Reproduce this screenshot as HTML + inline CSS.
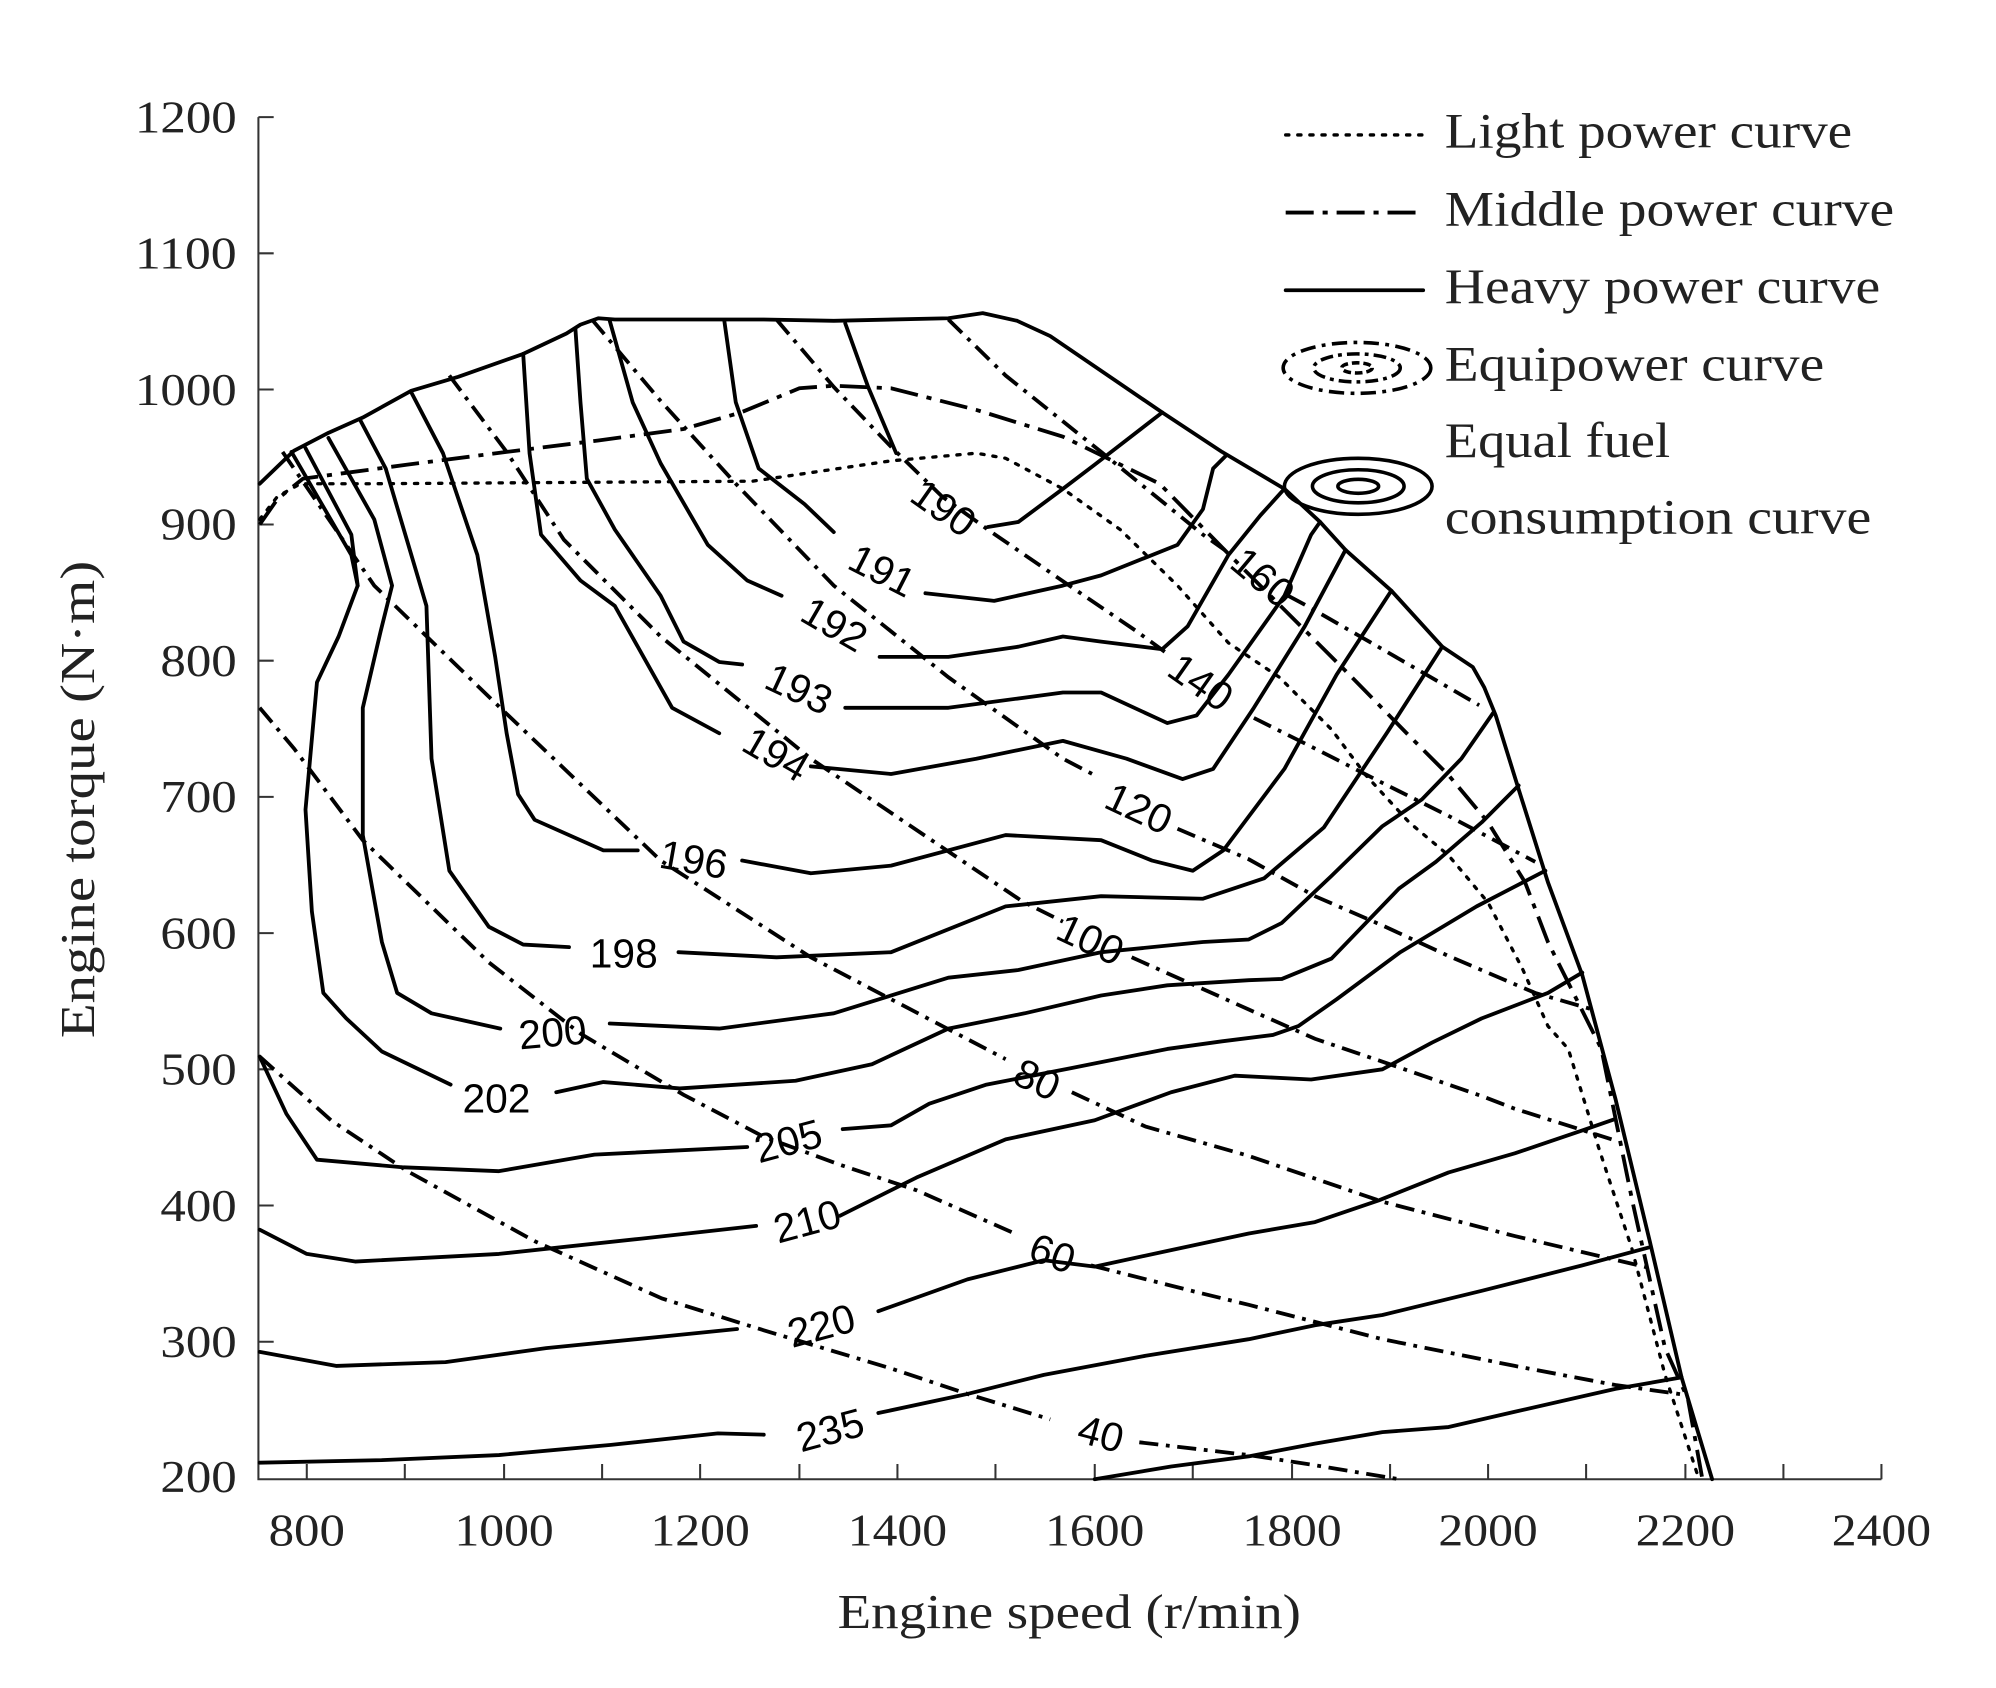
<!DOCTYPE html>
<html><head><meta charset="utf-8"><style>
html,body{margin:0;padding:0;background:#fff;}
svg{display:block;}
text{font-family:"Liberation Serif",serif;fill:#222;}
.lb text{font-family:"Liberation Sans",sans-serif;font-size:32px;fill:#000;}
.c{fill:none;stroke:#000;stroke-width:3;stroke-linejoin:round;stroke-linecap:round;}
.e{fill:none;stroke:#000;stroke-width:3;stroke-dasharray:15 6 3 6;}
.m{fill:none;stroke:#000;stroke-width:3;stroke-dasharray:22 7 4 7;}
.d{fill:none;stroke:#000;stroke-width:2.6;stroke-dasharray:2.5 7;stroke-linecap:round;}
.ax{stroke:#333;stroke-width:1.6;fill:none;}
</style></head><body>
<svg width="1996" height="1688" viewBox="0 0 1568 1326" preserveAspectRatio="none">
<!-- axes -->
<path class="ax" d="M203,92 V1162 H1478"/>
<g class="ax">
<path d="M203,92h12M203,199h12M203,306h12M203,412h12M203,519h12M203,626h12M203,733h12M203,840h12M203,947h12M203,1054h12"/>
<path d="M241,1162v-12M318,1162v-12M396,1162v-12M473,1162v-12M550,1162v-12M628,1162v-12M705,1162v-12M782,1162v-12M860,1162v-12M937,1162v-12M1015,1162v-12M1092,1162v-12M1169,1162v-12M1246,1162v-12M1324,1162v-12M1401,1162v-12M1478,1162v-12"/>
</g>
<g style="font-size:36px" text-anchor="end" lengthAdjust="spacingAndGlyphs">
<text x="186" y="104" textLength="80" lengthAdjust="spacingAndGlyphs">1200</text><text x="186" y="211" textLength="80" lengthAdjust="spacingAndGlyphs">1100</text><text x="186" y="318" textLength="80" lengthAdjust="spacingAndGlyphs">1000</text>
<text x="186" y="424" textLength="60" lengthAdjust="spacingAndGlyphs">900</text><text x="186" y="531" textLength="60" lengthAdjust="spacingAndGlyphs">800</text><text x="186" y="638" textLength="60" lengthAdjust="spacingAndGlyphs">700</text>
<text x="186" y="745" textLength="60" lengthAdjust="spacingAndGlyphs">600</text><text x="186" y="852" textLength="60" lengthAdjust="spacingAndGlyphs">500</text><text x="186" y="959" textLength="60" lengthAdjust="spacingAndGlyphs">400</text>
<text x="186" y="1066" textLength="60" lengthAdjust="spacingAndGlyphs">300</text><text x="186" y="1172" textLength="60" lengthAdjust="spacingAndGlyphs">200</text>
</g>
<g style="font-size:36px" text-anchor="middle">
<text x="241" y="1214" textLength="60" lengthAdjust="spacingAndGlyphs">800</text><text x="396" y="1214" textLength="78" lengthAdjust="spacingAndGlyphs">1000</text><text x="550" y="1214" textLength="78" lengthAdjust="spacingAndGlyphs">1200</text>
<text x="705" y="1214" textLength="78" lengthAdjust="spacingAndGlyphs">1400</text><text x="860" y="1214" textLength="78" lengthAdjust="spacingAndGlyphs">1600</text><text x="1015" y="1214" textLength="78" lengthAdjust="spacingAndGlyphs">1800</text>
<text x="1169" y="1214" textLength="78" lengthAdjust="spacingAndGlyphs">2000</text><text x="1324" y="1214" textLength="78" lengthAdjust="spacingAndGlyphs">2200</text><text x="1478" y="1214" textLength="78" lengthAdjust="spacingAndGlyphs">2400</text>
<text x="840" y="1279" style="font-size:38px" textLength="364" lengthAdjust="spacingAndGlyphs">Engine speed (r/min)</text>
<text transform="translate(74,628) rotate(-90)" style="font-size:38px" textLength="375" lengthAdjust="spacingAndGlyphs">Engine torque (N·m)</text>
</g>

<!-- boundary -->
<polyline class="c" points="204,380 231,354 258,340 285,328 323,307 360,296 411,278 445,262 456,255 470,250 483,251 600,251 655,252 745,250 772,246 799,252 825,264 913,324 960,355 1009,384 1037,410 1057,432 1093,464 1133,508 1157,524 1166,540 1175,562 1193,620 1216,693 1243,766 1269,863 1296,975 1321,1082 1345,1162"/>

<!-- fuel contours -->
<polyline class="c" points="664,254 682,304 704,356"/>
<polyline class="c" points="776,414 800,410 835,384 860,365 913,324"/>
<polyline class="c" points="569,252 578,316 596,368 632,396 655,418"/>
<polyline class="c" points="727,466 781,472 835,460 865,452 925,428 945,400 953,368 963,358"/>
<polyline class="c" points="479,252 497,316 519,364 556,428 587,456 614,468"/>
<polyline class="c" points="691,516 745,516 800,508 835,500 865,504 913,510 933,492 965,436 990,405 1009,384"/>
<polyline class="c" points="452,258 456,316 461,376 483,416 519,468 537,504 565,520 583,522"/>
<polyline class="c" points="664,556 745,556 835,544 865,544 917,568 940,562 965,530 1009,468 1030,420 1037,410"/>
<polyline class="c" points="411,278 416,356 425,420 456,456 483,476 510,524 528,556 565,576"/>
<polyline class="c" points="637,602 700,608 767,596 835,582 885,596 929,612 953,604 985,556 1025,492 1057,432"/>
<polyline class="c" points="323,308 348,356 375,436 389,516 398,576 407,624 420,644 474,668 501,668"/>
<polyline class="c" points="583,676 637,686 700,680 790,656 865,660 905,676 937,684 961,668 1009,604 1050,530 1093,464"/>
<polyline class="c" points="283,330 303,368 335,476 339,596 353,684 384,728 411,742 447,744"/>
<polyline class="c" points="533,748 610,752 700,748 790,712 865,704 945,706 993,690 1040,650 1090,575 1133,508"/>
<polyline class="c" points="258,344 294,408 308,460 299,496 285,556 285,656 300,740 312,780 339,796 393,808"/>
<polyline class="c" points="479,804 565,808 655,796 745,768 800,762 865,748 945,740 981,738 1007,725 1046,688 1086,649 1117,628 1148,596 1173,560"/>
<polyline class="c" points="240,352 276,420 281,460"/>
<polyline class="c" points="229,355 276,436 281,460 266,500 249,536 240,636 245,716 254,780 272,800 300,826 354,852"/>
<polyline class="c" points="437,858 474,850 534,855 625,849 685,836 745,808 805,796 865,782 917,774 981,770 1007,769 1046,753 1073,725 1099,698 1128,677 1164,646 1193,617"/>
<polyline class="c" points="204,830 225,875 249,911 317,917 392,920 467,907 587,901"/>
<polyline class="c" points="662,887 700,884 730,867 775,852 842,839 917,824 960,818 1000,813 1020,806 1050,785 1100,748 1160,712 1214,684"/>
<polyline class="c" points="204,966 241,985 279,991 392,985 504,973 594,963"/>
<polyline class="c" points="660,955 720,925 790,895 860,880 920,858 970,845 1030,848 1086,840 1125,819 1164,800 1216,780 1243,764"/>
<polyline class="c" points="204,1062 264,1073 350,1070 429,1059 520,1050 579,1044"/>
<polyline class="c" points="690,1030 760,1005 820,990 860,995 920,982 981,969 1033,960 1083,943 1138,921 1190,906 1243,888 1269,879"/>
<polyline class="c" points="204,1149 300,1147 392,1143 480,1135 564,1126 600,1127"/>
<polyline class="c" points="690,1110 760,1095 820,1080 900,1065 981,1052 1033,1041 1086,1033 1164,1014 1243,994 1295,980"/>
<polyline class="c" points="860,1162 920,1152 981,1144 1033,1134 1086,1125 1138,1121 1190,1109 1269,1091 1321,1082"/>

<!-- equipower -->
<polyline class="e" points="204,830 260,880 320,920 420,975 520,1020 600,1045 700,1075 760,1095 825,1115"/>
<polyline class="e" points="895,1133 981,1143 1033,1151 1099,1162"/>
<polyline class="e" points="204,556 231,588 285,660 384,756 456,812 537,860 600,893 660,915 720,935 795,968"/>
<polyline class="e" points="857,994 940,1015 981,1025 1086,1052 1190,1073 1269,1088 1326,1096"/>
<polyline class="e" points="222,355 294,460 393,556 519,676 637,752 790,832"/>
<polyline class="e" points="842,858 900,885 981,908 1086,944 1190,971 1300,997"/>
<polyline class="e" points="353,295 398,355 443,424 519,500 637,596 803,708 835,724"/>
<polyline class="e" points="889,752 981,793 1033,816 1086,834 1164,861 1190,871 1266,895"/>
<polyline class="e" points="465,251 519,315 578,380 655,460 745,532 835,596 862,610"/>
<polyline class="e" points="925,651 981,675 1033,704 1086,727 1138,751 1206,780 1251,793"/>
<polyline class="e" points="610,251 655,304 700,351 740,390 776,416 840,460 893,496 915,512"/>
<polyline class="e" points="985,564 1033,588 1086,615 1138,641 1206,677"/>
<polyline class="e" points="745,251 790,295 865,355 945,420 962,432"/>
<polyline class="e" points="1012,468 1025,475 1086,510 1162,554"/>

<!-- middle power -->
<polyline class="m" points="204,412 218,392 238,376 320,365 398,355 470,346 537,337 582,324 628,305 655,303 700,305 767,322 835,343 911,380 960,430 1010,480 1060,530 1107,578 1138,609 1169,646 1185,672 1198,693 1216,740 1232,772 1258,824 1282,942 1308,1059 1326,1099 1337,1160"/>
<!-- light power -->
<polyline class="d" points="204,408 218,390 236,380 294,380 591,378 700,362 767,356 790,360 835,384 880,416 925,460 965,505 1005,532 1046,573 1073,609 1107,646 1138,672 1169,709 1196,761 1216,806 1232,824 1256,902 1282,981 1308,1080 1334,1160"/>

<!-- labels -->
<g class="lb" text-anchor="middle">
<text transform="translate(735,408) rotate(35)">190</text>
<text transform="translate(688,458) rotate(27)">191</text>
<text transform="translate(650,500) rotate(30)">192</text>
<text transform="translate(623,551) rotate(25)">193</text>
<text transform="translate(604,602) rotate(30)">194</text>
<text transform="translate(543,686) rotate(10)">196</text>
<text transform="translate(490,760)">198</text>
<text transform="translate(435,822) rotate(-5)">200</text>
<text transform="translate(390,874)">202</text>
<text transform="translate(622,907) rotate(-15)">205</text>
<text transform="translate(637,970) rotate(-15)">210</text>
<text transform="translate(648,1052) rotate(-15)">220</text>
<text transform="translate(655,1134) rotate(-15)">235</text>
<text transform="translate(985,462) rotate(40)">160</text>
<text transform="translate(937,545) rotate(35)">140</text>
<text transform="translate(890,645) rotate(25)">120</text>
<text transform="translate(852,748) rotate(25)">100</text>
<text transform="translate(810,858) rotate(25)">80</text>
<text transform="translate(823,995) rotate(20)">60</text>
<text transform="translate(862,1137) rotate(15)">40</text>
</g>

<!-- legend -->
<path class="d" d="M1010,106 H1118"/>
<path class="m" d="M1010,167 H1118"/>
<path class="c" d="M1010,228 H1118"/>
<g fill="none" stroke="#000" stroke-width="2.8">
<ellipse cx="1066" cy="289" rx="58" ry="20" stroke-dasharray="12 5 3 5"/>
<ellipse cx="1066" cy="289" rx="34" ry="11" stroke-dasharray="10 4 3 4"/>
<ellipse cx="1066" cy="289" rx="12" ry="4" stroke-dasharray="6 3"/>
<ellipse cx="1067" cy="382" rx="58" ry="22"/>
<ellipse cx="1067" cy="382" rx="36" ry="13"/>
<ellipse cx="1067" cy="382" rx="16" ry="5.5"/>
</g>
<g style="font-size:39px">
<text x="1135" y="116" textLength="320" lengthAdjust="spacingAndGlyphs">Light power curve</text>
<text x="1135" y="177" textLength="353" lengthAdjust="spacingAndGlyphs">Middle power curve</text>
<text x="1135" y="238" textLength="342" lengthAdjust="spacingAndGlyphs">Heavy power curve</text>
<text x="1135" y="299" textLength="298" lengthAdjust="spacingAndGlyphs">Equipower curve</text>
<text x="1135" y="359" textLength="177" lengthAdjust="spacingAndGlyphs">Equal fuel</text>
<text x="1135" y="419" textLength="335" lengthAdjust="spacingAndGlyphs">consumption curve</text>
</g>
</svg>
</body></html>
